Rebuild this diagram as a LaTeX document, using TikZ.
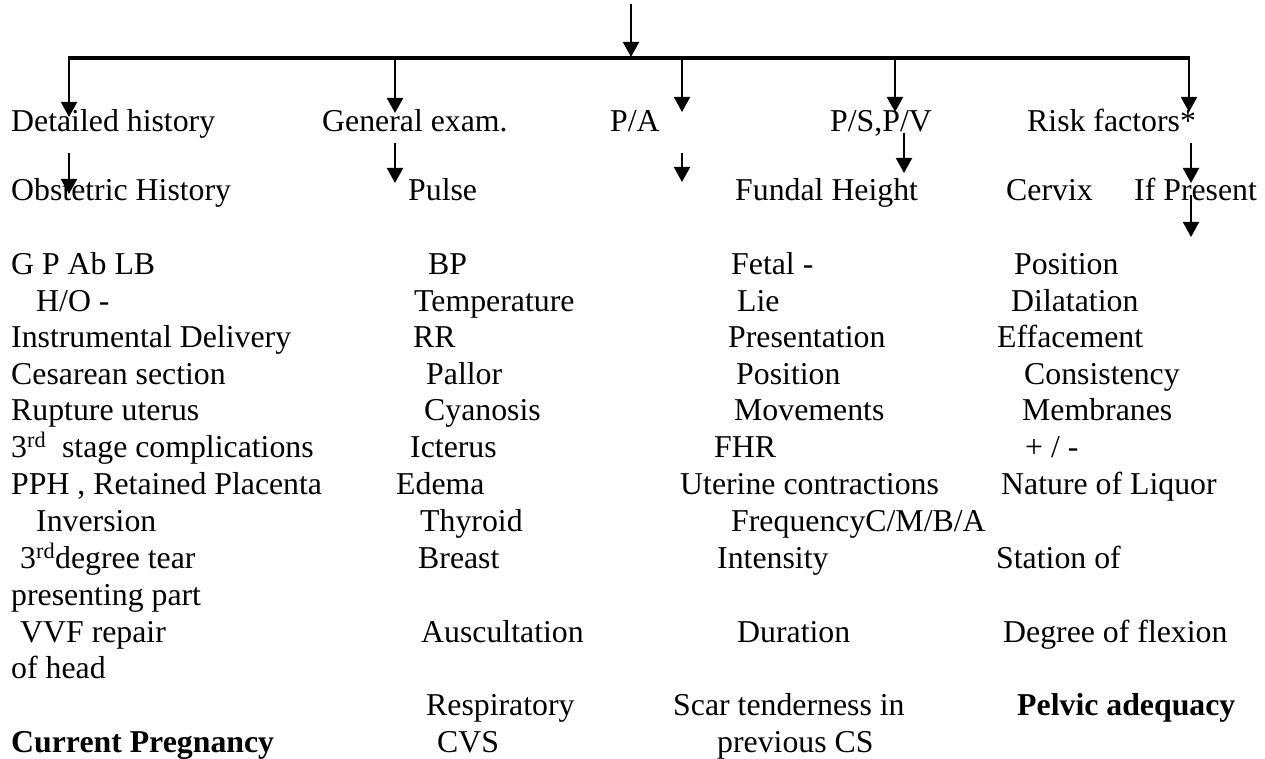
\documentclass[tikz,border=0pt]{standalone}
\usepackage{fontspec}
\setmainfont{Liberation Serif}
\usetikzlibrary{arrows.meta}
\begin{document}
\begin{tikzpicture}[x=1pt,y=-1pt,
  txt/.style={anchor=base west, inner sep=0pt, font=\fontsize{31.8}{36.75}\selectfont},
  btxt/.style={txt, font=\fontsize{31.8}{36.75}\selectfont\bfseries},
  arr/.style={line width=2pt, -{Triangle[length=15pt,width=16pt]}},
  bar/.style={line width=4pt}]
\useasboundingbox (0,0) rectangle (1265,759);

% ---- main branch ----
\coordinate (top0) at (631,4);
\coordinate (top1) at (631,57);
\coordinate (barL) at (68,58);
\coordinate (barR) at (1190,58);
\draw[bar] (barL) -- (barR);
\draw[arr] (top0) -- (top1);

\coordinate (d1s) at (69,58);   \coordinate (d1e) at (69,117);
\coordinate (d2s) at (395,58);  \coordinate (d2e) at (395,113);
\coordinate (d3s) at (682,58);  \coordinate (d3e) at (682,112);
\coordinate (d4s) at (895,58);  \coordinate (d4e) at (895,112);
\coordinate (d5s) at (1189,58); \coordinate (d5e) at (1189,112);
\foreach \i in {1,...,5} \draw[arr] (d\i s) -- (d\i e);

% ---- headings ----
\node[txt] (hHist) at (11,132)  {Detailed history};
\node[txt] (hGen)  at (322,132) {General exam.};
\node[txt] (hPA)   at (610,132) {P/A};
\node[txt] (hPV)   at (830,132) {P/S,P/V};
\node[txt] (hRisk) at (1027,132) {Risk factors*};

% ---- second level arrows ----
\coordinate (s1s) at (69,153);   \coordinate (s1e) at (69,194);
\coordinate (s2s) at (395,143);  \coordinate (s2e) at (395,183);
\coordinate (s3s) at (682,153);  \coordinate (s3e) at (682,182);
\coordinate (s4s) at (904,133);  \coordinate (s4e) at (904,173);
\coordinate (s5s) at (1191,143); \coordinate (s5e) at (1191,183);
\coordinate (s6s) at (1191,195); \coordinate (s6e) at (1191,237);
\foreach \i in {1,...,6} \draw[arr] (s\i s) -- (s\i e);

% ---- second level texts ----
\node[txt] (obs)    at (11,201)   {Obstetric History};
\node[txt] (pulse)  at (408,201)  {Pulse};
\node[txt] (fundal) at (735,201)  {Fundal Height};
\node[txt] (cervix) at (1006,201) {Cervix};
\node[txt] (ifpres) at (1134,201) {If Present};

% ---- column 1: history ----
\node[txt] (c1a) at (11,274)  {G P Ab LB};
\node[txt] (c1b) at (36,311)  {H/O -};
\node[txt] (c1c) at (11,347)  {Instrumental Delivery};
\node[txt] (c1d) at (11,384)  {Cesarean section};
\node[txt] (c1e) at (11,420)  {Rupture uterus};
\node[txt] (c1f) at (11,457)  {3\textsuperscript{rd}\ \ stage complications};
\node[txt] (c1g) at (11,494)  {PPH , Retained Placenta};
\node[txt] (c1h) at (36,531)  {Inversion};
\node[txt] (c1i) at (20,568)  {3\textsuperscript{rd}degree tear};
\node[txt] (c1j) at (11,605)  {presenting part};
\node[txt] (c1k) at (20,642)  {VVF repair};
\node[txt] (c1l) at (11,678)  {of head};
\node[btxt] (c1m) at (11,752) {Current Pregnancy};

% ---- column 2: general examination ----
\node[txt] (c2a) at (428,274) {BP};
\node[txt] (c2b) at (414,311) {Temperature};
\node[txt] (c2c) at (413,347) {RR};
\node[txt] (c2d) at (426,384) {Pallor};
\node[txt] (c2e) at (424,420) {Cyanosis};
\node[txt] (c2f) at (410,457) {Icterus};
\node[txt] (c2g) at (396,494) {Edema};
\node[txt] (c2h) at (420,531) {Thyroid};
\node[txt] (c2i) at (418,568) {Breast};
\node[txt] (c2j) at (421,642) {Auscultation};
\node[txt] (c2k) at (426,715) {Respiratory};
\node[txt] (c2l) at (437,752) {CVS};

% ---- column 3: per abdomen ----
\node[txt] (c3a) at (731,274) {Fetal -};
\node[txt] (c3b) at (737,311) {Lie};
\node[txt] (c3c) at (728,347) {Presentation};
\node[txt] (c3d) at (736,384) {Position};
\node[txt] (c3e) at (734,420) {Movements};
\node[txt] (c3f) at (714,457) {FHR};
\node[txt] (c3g) at (680,494) {Uterine contractions};
\node[txt] (c3h) at (731,531) {FrequencyC/M/B/A};
\node[txt] (c3i) at (717,568) {Intensity};
\node[txt] (c3j) at (737,642) {Duration};
\node[txt] (c3k) at (673,715) {Scar tenderness in};
\node[txt] (c3l) at (717,752) {previous CS};

% ---- column 4: cervix ----
\node[txt] (c4a) at (1014,274) {Position};
\node[txt] (c4b) at (1011,311) {Dilatation};
\node[txt] (c4c) at (997,347)  {Effacement};
\node[txt] (c4d) at (1024,384) {Consistency};
\node[txt] (c4e) at (1022,420) {Membranes};
\node[txt] (c4f) at (1025,457) {+ / -};
\node[txt] (c4g) at (1001,494) {Nature of Liquor};
\node[txt] (c4h) at (996,568)  {Station of};
\node[txt] (c4i) at (1003,642) {Degree of flexion};
\node[btxt] (c4j) at (1017,715) {Pelvic adequacy};
\end{tikzpicture}
\end{document}
